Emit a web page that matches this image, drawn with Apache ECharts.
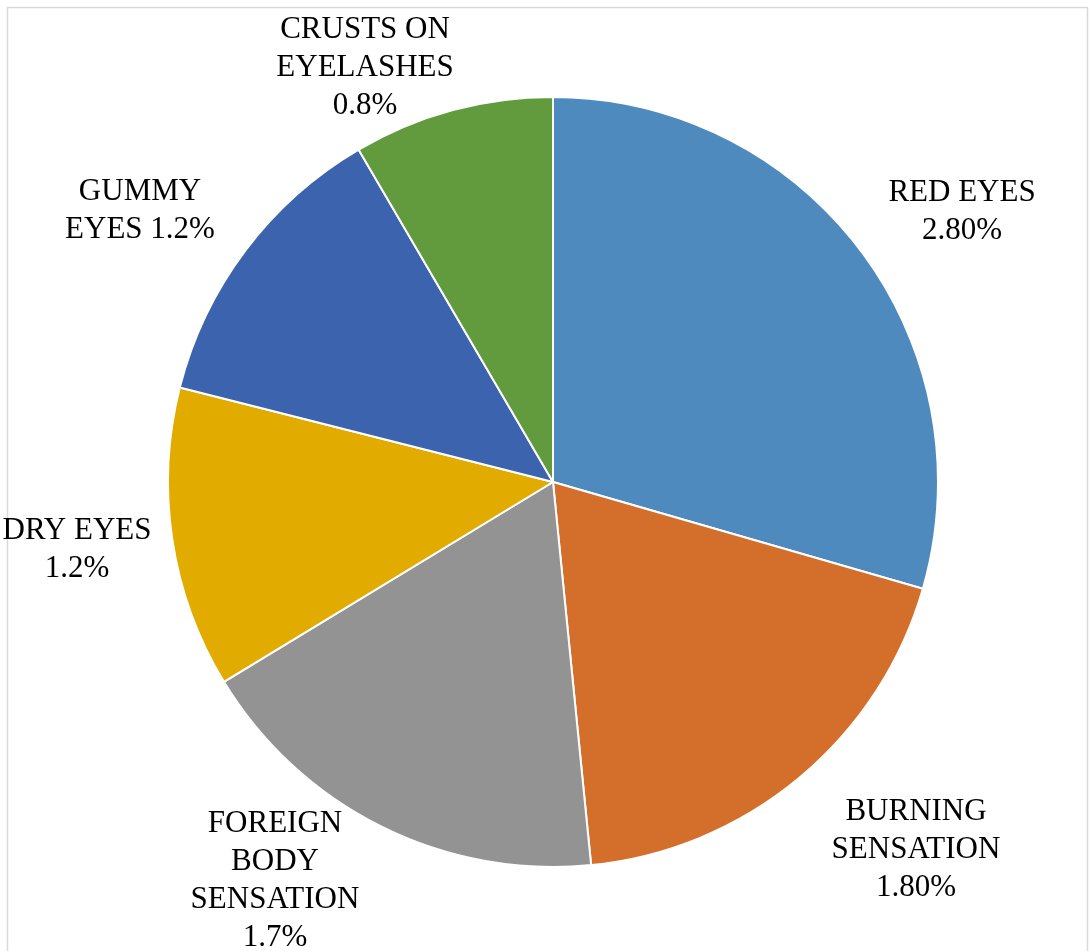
<!DOCTYPE html>
<html>
<head>
<meta charset="utf-8">
<script src="https://cdn.jsdelivr.net/npm/echarts@6/dist/echarts.min.js"></script>
<style>
html,body{margin:0;padding:0;background:#fff;}
#c{width:1089px;height:951px;}
</style>
</head>
<body>
<div id="c"></div>
<script>
const categories = ["RED EYES", "BURNING SENSATION", "FOREIGN BODY SENSATION", "DRY EYES", "GUMMY EYES", "CRUSTS ON EYELASHES"];
const values = [2.8, 1.8, 1.7, 1.2, 1.2, 0.8];
const labelTexts = ["RED EYES\n2.80%", "BURNING\nSENSATION\n1.80%", "FOREIGN\nBODY\nSENSATION\n1.7%", "DRY EYES\n1.2%", "GUMMY\nEYES 1.2%", "CRUSTS ON\nEYELASHES\n0.8%"];
const colors = ["#4F8ABE", "#D46F2B", "#939393", "#E2AB00", "#3C64AE", "#629B3E"];

// label anchor positions (layout only)
const labelAnchors = [[962, 212], [916, 850], [275, 881], [77, 550], [140, 211], [365, 68]];

const chart = echarts.init(document.getElementById('c'), null, {renderer: 'canvas'});
chart.setOption({
  animation: false,
  backgroundColor: '#ffffff',
  graphic: [{
    type: 'rect',
    shape: {x: 7.5, y: 7.5, width: 1080, height: 1000},
    style: {fill: 'none', stroke: '#d9d9d9', lineWidth: 1.5},
    silent: true,
    z: -1
  }],
  series: [{
    type: 'pie',
    center: [553, 482],
    radius: [0, 385],
    startAngle: 90,
    clockwise: true,
    avoidLabelOverlap: false,
    data: categories.map((c, i) => ({name: c, value: values[i], itemStyle: {color: colors[i]}})),
    itemStyle: {borderColor: '#ffffff', borderWidth: 2},
    label: {
      show: true,
      position: 'outside',
      formatter: p => labelTexts[p.dataIndex],
      fontFamily: '"Liberation Serif", "Times New Roman", serif',
      fontSize: 31,
      lineHeight: 38,
      color: '#000000',
      align: 'center'
    },
    labelLine: {show: false},
    labelLayout: function (params) {
      const a = labelAnchors[params.dataIndex];
      return {x: a[0], y: a[1], align: 'center', verticalAlign: 'middle'};
    },
    emphasis: {disabled: true}
  }]
});
</script>
</body>
</html>
